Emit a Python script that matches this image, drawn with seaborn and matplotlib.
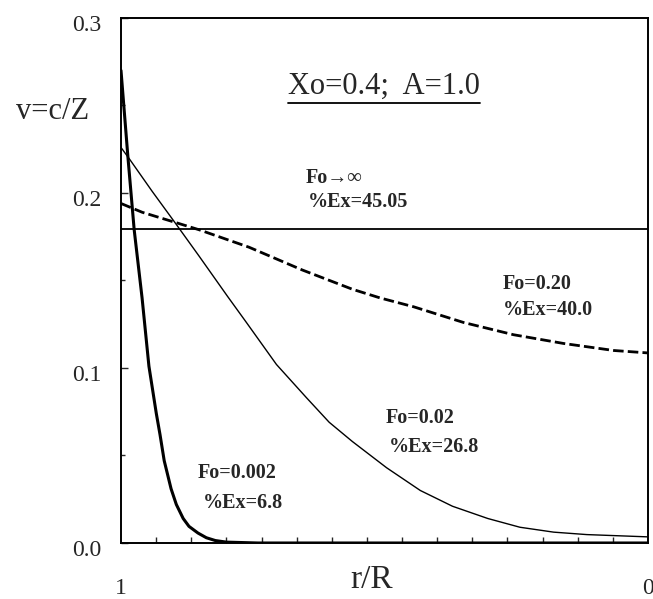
import numpy as np
import pandas as pd
import matplotlib
matplotlib.use('Agg')
import matplotlib.pyplot as plt
import matplotlib.transforms as mtransforms
from matplotlib.ticker import MultipleLocator
import seaborn as sns

# values (r/R runs from 1 at the left to 0 at the right)
r_fo002 = [1.0, 0.987, 0.975, 0.960, 0.947, 0.933, 0.926, 0.918, 0.905, 0.895, 0.882, 0.871,
           0.854, 0.838, 0.821, 0.800, 0.740, 0.5, 0.0]
v_fo002 = [0.270, 0.221, 0.179, 0.140, 0.101, 0.074, 0.062, 0.047, 0.031, 0.022, 0.014, 0.0095,
           0.0057, 0.0030, 0.0014, 0.0005, 0.0, 0.0, 0.0]

r_fo02 = [1.0, 0.983, 0.941, 0.895, 0.852, 0.798, 0.762, 0.705, 0.648, 0.605, 0.561, 0.496,
          0.432, 0.371, 0.304, 0.243, 0.179, 0.116, 0.0]
v_fo02 = [0.226, 0.219, 0.201, 0.182, 0.164, 0.141, 0.126, 0.102, 0.083, 0.069, 0.058, 0.043,
          0.030, 0.021, 0.014, 0.009, 0.0062, 0.0048, 0.0035]

r_fo20 = [1.0, 0.960, 0.895, 0.852, 0.757, 0.656, 0.561, 0.508, 0.445, 0.350, 0.255, 0.160, 0.065, 0.0]
v_fo20 = [0.194, 0.189, 0.183, 0.179, 0.169, 0.156, 0.145, 0.140, 0.135, 0.126, 0.119, 0.114, 0.110, 0.1086]

r_inf = [1.0, 0.0]
v_inf = [0.1794, 0.1794]

# curve labels
labels_fo = ['Fo\u2192\u221e', 'Fo=0.20', 'Fo=0.02', 'Fo=0.002']
labels_ex = ['%Ex=45.05', '%Ex=40.0', '%Ex=26.8', '%Ex=6.8']
label_r = [0.650, 0.276, 0.498, 0.854]
label_v_fo = [0.2086, 0.1480, 0.0714, 0.0400]
label_r_ex = [0.646, 0.276, 0.492, 0.844]
label_v_ex = [0.1949, 0.1330, 0.0549, 0.0229]

title_text = 'Xo=0.4;  A=1.0'

sns.set_style('ticks')
plt.rcParams['font.family'] = ['Liberation Serif', 'DejaVu Serif']
plt.rcParams['xtick.direction'] = 'in'
plt.rcParams['ytick.direction'] = 'in'

fig, ax = plt.subplots(figsize=(6.53, 5.99), dpi=100)
fig.subplots_adjust(left=0.1853, right=0.9923, bottom=0.0935, top=0.970)

sns.lineplot(x=r_inf, y=v_inf, color='black', linewidth=1.3, sort=False, estimator=None, ax=ax)
sns.lineplot(x=r_fo20, y=v_fo20, color='black', linewidth=2.0, sort=False, estimator=None, ax=ax)
ax.lines[-1].set_dashes([3.8, 1.5])
sns.lineplot(x=r_fo02, y=v_fo02, color='black', linewidth=1.0, sort=False, estimator=None, ax=ax)
sns.lineplot(x=r_fo002, y=v_fo002, color='black', linewidth=2.2, sort=False, estimator=None, ax=ax)
for ln in ax.lines:
    ln.set_solid_joinstyle('round')

ax.set_xlim(1, 0)
ax.set_ylim(0, 0.3)

ax.set_xticks([1, 0])
ax.set_xticklabels(['1', '0'])
ax.xaxis.set_minor_locator(MultipleLocator(1 / 15))
ax.set_yticks([0.0, 0.1, 0.2, 0.3])
ax.set_yticklabels(['0.0', '0.1', '0.2', '0.3'])
ax.yaxis.set_minor_locator(MultipleLocator(0.05))

ax.tick_params(axis='x', which='major', length=0, pad=25, labelsize=17)
ax.tick_params(axis='x', which='minor', length=4, width=1.0)
ax.tick_params(axis='y', which='major', length=5, width=1.0, pad=14, labelsize=17)
ax.tick_params(axis='y', which='minor', length=3, width=1.0)

# the original tick numbers sit a little below their ticks
shift = mtransforms.ScaledTranslation(0, -5 / 100, fig.dpi_scale_trans)
for lbl in ax.get_yticklabels():
    lbl.set_transform(lbl.get_transform() + shift)

for s in ax.spines.values():
    s.set_visible(True)
    s.set_linewidth(1.4)
    s.set_color('black')

ax.set_xlabel('r/R', fontsize=24, va='center')
ax.xaxis.set_label_coords(0.476, -0.0705)
ax.set_ylabel('v=c/Z', fontsize=22, rotation=0, ha='center', va='center')
ax.yaxis.set_label_coords(-0.129, 0.821)

for i in range(len(labels_fo)):
    ax.text(label_r[i], label_v_fo[i], labels_fo[i], fontsize=14.5, fontweight='bold', ha='left', va='center')
    ax.text(label_r_ex[i], label_v_ex[i], labels_ex[i], fontsize=14.5, fontweight='bold', ha='left', va='center')

title = ax.text(0.683, 0.2565, title_text, fontsize=22, ha='left', va='baseline')

# underline the parameter text
fig.canvas.draw()
bb = title.get_window_extent().transformed(ax.transData.inverted())
ax.plot([bb.x0, bb.x1], [0.2514, 0.2514], color='black', linewidth=1.3)

fig.savefig('out.png', dpi=100)
plt.close(fig)
